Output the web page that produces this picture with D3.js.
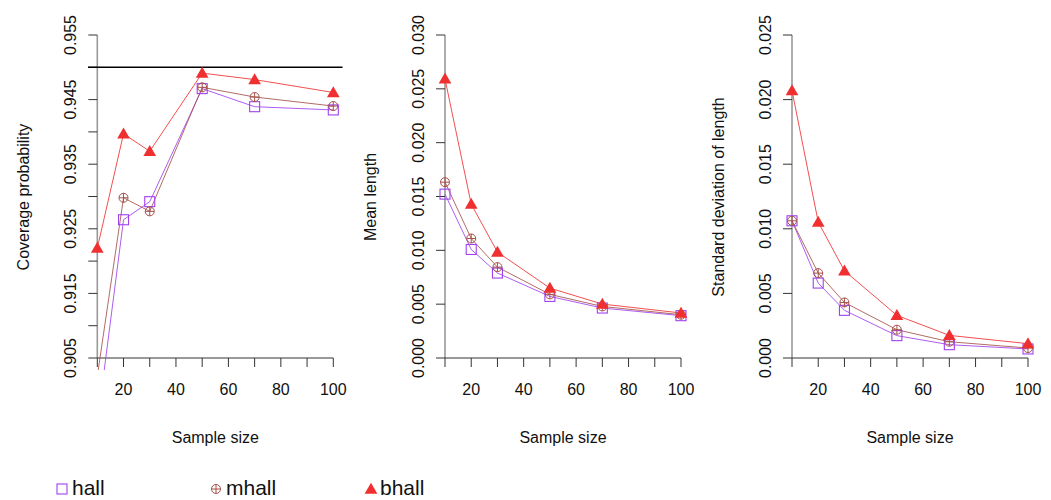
<!DOCTYPE html>
<html>
<head>
<meta charset="utf-8">
<script src="https://cdn.jsdelivr.net/npm/d3@7"></script>
<style>
  body { margin: 0; background: #fff; }
  svg { display: block; font-family: "Liberation Sans", Arial, sans-serif; }
</style>
</head>
<body>
<svg id="chart" width="1051" height="500"></svg>
<script>
const sampleSizes = [10, 20, 30, 50, 70, 100];
const xTicks = [10, 20, 30, 40, 50, 60, 70, 80, 90, 100];
const xTickLabels = [20, 40, 60, 80, 100];

const coverageHall  = [0.8948, 0.9264, 0.9292, 0.9467, 0.9439, 0.9434];
const coverageMhall = [0.9022, 0.9298, 0.9277, 0.9469, 0.9454, 0.9440];
const coverageBhall = [0.9220, 0.9397, 0.9370, 0.9491, 0.9481, 0.9461];

const meanHall  = [0.01522, 0.01008, 0.00789, 0.00572, 0.00464, 0.00393];
const meanMhall = [0.01633, 0.01110, 0.00844, 0.00591, 0.00479, 0.00402];
const meanBhall = [0.02592, 0.01429, 0.00984, 0.00649, 0.00501, 0.00418];

const sdHall  = [0.01062, 0.00580, 0.00369, 0.00173, 0.00103, 0.00070];
const sdMhall = [0.01062, 0.00657, 0.00430, 0.00219, 0.00126, 0.00077];
const sdBhall = [0.02070, 0.01052, 0.00675, 0.00330, 0.00175, 0.00111];

const seriesNames = ["hall", "mhall", "bhall"];
const seriesColors = ["#a040f0", "#a5524a", "#f03030"];

const coverageTicks = [0.905, 0.910, 0.915, 0.920, 0.925, 0.930, 0.935, 0.940, 0.945, 0.950, 0.955];
const coverageTickLabels = ["0.905", "0.915", "0.925", "0.935", "0.945", "0.955"];
const meanTicks = [0, 0.005, 0.010, 0.015, 0.020, 0.025, 0.030];
const meanTickLabels = ["0.000", "0.005", "0.010", "0.015", "0.020", "0.025", "0.030"];
const sdTicks = [0, 0.005, 0.010, 0.015, 0.020, 0.025];
const sdTickLabels = ["0.000", "0.005", "0.010", "0.015", "0.020", "0.025"];

const panels = [
  { left: 97.3, domain: [0.905, 0.955], ticks: coverageTicks, labels: coverageTickLabels,
    title: "Coverage probability", titleX: 23, refLine: 0.95,
    data: [coverageHall, coverageMhall, coverageBhall] },
  { left: 445, domain: [0, 0.030], ticks: meanTicks, labels: meanTickLabels,
    title: "Mean length", titleX: 370, refLine: null,
    data: [meanHall, meanMhall, meanBhall] },
  { left: 792, domain: [0, 0.025], ticks: sdTicks, labels: sdTickLabels,
    title: "Standard deviation of length", titleX: 718, refLine: null,
    data: [sdHall, sdMhall, sdBhall] }
];

const svg = d3.select("#chart");
const fmt = d3.format(".3f");
const fs = 16;

function drawMarker(g, type, x, y, color) {
  if (type === 0) {
    g.append("rect").attr("x", x - 5).attr("y", y - 5).attr("width", 10).attr("height", 10)
      .attr("fill", "none").attr("stroke", color).attr("stroke-width", 1.1);
  } else if (type === 1) {
    g.append("circle").attr("cx", x).attr("cy", y).attr("r", 4.5)
      .attr("fill", "none").attr("stroke", color).attr("stroke-width", 1);
    g.append("path").attr("d", `M${x - 4.5},${y}H${x + 4.5}M${x},${y - 4.5}V${y + 4.5}`)
      .attr("stroke", color).attr("stroke-width", 1);
  } else {
    g.append("path").attr("d", d3.symbol(d3.symbolTriangle, 70)())
      .attr("transform", `translate(${x},${y + 1})`).attr("fill", color);
  }
}

panels.forEach((p, pi) => {
  const x = d3.scaleLinear().domain([10, 100]).range([p.left, p.left + 236]);
  const y = d3.scaleLinear().domain(p.domain).range([358, 35]);
  const g = svg.append("g");

  const clipId = "clip" + pi;
  svg.append("clipPath").attr("id", clipId).append("rect")
    .attr("x", x(6.4)).attr("y", 23).attr("width", x(103.6) - x(6.4)).attr("height", 370 - 23);

  // y axis
  const yAxis = g.append("g");
  yAxis.append("line").attr("x1", p.left).attr("x2", p.left).attr("y1", y(p.domain[0])).attr("y2", y(p.domain[1]))
    .attr("stroke", "#999").attr("stroke-width", 1.6);
  yAxis.selectAll("line.tick").data(p.ticks).enter().append("line").attr("class", "tick")
    .attr("x1", p.left - 9).attr("x2", p.left).attr("y1", d => y(d)).attr("y2", d => y(d))
    .attr("stroke", "#333").attr("stroke-width", 1);
  yAxis.selectAll("text").data(p.ticks.filter(t => p.labels.includes(fmt(t)))).enter().append("text")
    .attr("transform", d => `translate(${p.left - 27},${y(d)}) rotate(-90)`)
    .attr("text-anchor", "middle").attr("dy", "0.35em")
    .attr("font-size", fs).attr("fill", "#111").text(d => fmt(d));

  // x axis
  const xAxis = g.append("g");
  xAxis.append("line").attr("x1", x(10)).attr("x2", x(100)).attr("y1", 358).attr("y2", 358)
    .attr("stroke", "#333").attr("stroke-width", 1);
  xAxis.selectAll("line.tick").data(xTicks).enter().append("line").attr("class", "tick")
    .attr("x1", d => x(d)).attr("x2", d => x(d)).attr("y1", 358).attr("y2", 367)
    .attr("stroke", "#333").attr("stroke-width", 1);
  xAxis.selectAll("text").data(xTickLabels).enter().append("text")
    .attr("x", d => x(d)).attr("y", 395).attr("text-anchor", "middle")
    .attr("font-size", fs).attr("fill", "#111").text(d => d);

  // titles
  g.append("text").attr("x", (x(6.4) + x(103.6)) / 2).attr("y", 443).attr("text-anchor", "middle")
    .attr("font-size", fs).attr("fill", "#111").text("Sample size");
  g.append("text").attr("transform", `translate(${p.titleX},197) rotate(-90)`)
    .attr("text-anchor", "middle").attr("dy", "0.35em")
    .attr("font-size", fs).attr("fill", "#111").text(p.title);

  const plot = g.append("g").attr("clip-path", `url(#${clipId})`);
  if (p.refLine !== null) {
    plot.append("line").attr("x1", x(6.4)).attr("x2", x(103.6)).attr("y1", y(p.refLine)).attr("y2", y(p.refLine))
      .attr("stroke", "#000").attr("stroke-width", 1.5);
  }
  const line = d3.line().x((d, i) => x(sampleSizes[i])).y(d => y(d));
  p.data.forEach((vals, si) => {
    plot.append("path").datum(vals).attr("d", line).attr("fill", "none")
      .attr("stroke", seriesColors[si]).attr("stroke-width", 1).attr("stroke-opacity", 0.85);
  });
  p.data.forEach((vals, si) => {
    vals.forEach((v, i) => drawMarker(plot, si, x(sampleSizes[i]), y(v), seriesColors[si]));
  });
});

// legend
const legendX = [62, 216, 371];
const legendTextX = [72, 226, 380];
seriesNames.forEach((name, i) => {
  const lg = svg.append("g");
  drawMarker(lg, i, legendX[i], 489, seriesColors[i]);
  lg.append("text").attr("x", legendTextX[i]).attr("y", 495)
    .attr("font-size", 21).attr("fill", "#111").text(name);
});
</script>
</body>
</html>
